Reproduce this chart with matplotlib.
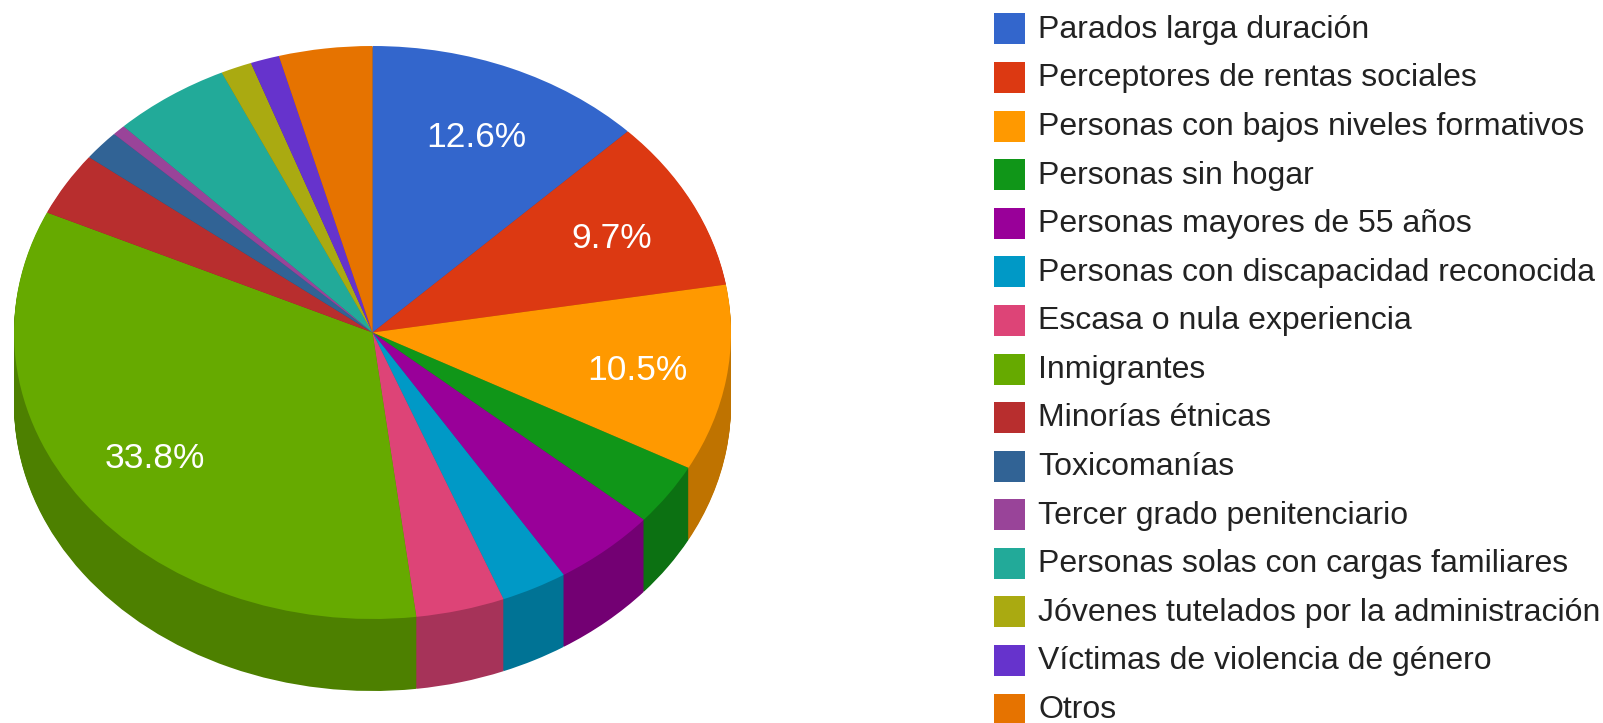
import matplotlib
matplotlib.use("Agg")
import matplotlib.pyplot as plt
import matplotlib.colors as mcolors

plt.rcParams['font.family'] = ['Liberation Sans', 'DejaVu Sans']

# Share of each group (%)
categories = [
    "Parados larga duración",
    "Perceptores de rentas sociales",
    "Personas con bajos niveles formativos",
    "Personas sin hogar",
    "Personas mayores de 55 años",
    "Personas con discapacidad reconocida",
    "Escasa o nula experiencia",
    "Inmigrantes",
    "Minorías étnicas",
    "Toxicomanías",
    "Tercer grado penitenciario",
    "Personas solas con cargas familiares",
    "Jóvenes tutelados por la administración",
    "Víctimas de violencia de género",
    "Otros",
]
values = [12.6, 9.7, 10.5, 3.5, 4.7, 3.0, 4.0, 33.8, 3.6, 1.7, 0.6, 5.3, 1.4, 1.3, 4.2]
colors = [
    "#3366cc", "#dc3912", "#ff9900", "#109618", "#990099",
    "#0099c6", "#dd4477", "#66aa00", "#b82e2e", "#316395",
    "#994499", "#22aa99", "#aaaa11", "#6633cc", "#e67300",
]

# Figure geometry in pixels
W, H = 1603, 723
cx, cy = 372.5, 332.5
rx, ry = 358.5, 286.5
depth_px = 72

fig = plt.figure(figsize=(W / 100, H / 100), dpi=100)
ax = fig.add_axes([0, 0, 1, 1])

# Side of the disc: stacked darker copies, lowest first
dark = [tuple(c * 0.75 for c in mcolors.to_rgb(col)) for col in colors]
for px in range(depth_px, 0, -1):
    ax.pie(values, colors=dark, startangle=90, counterclock=False,
           center=(0, -px / ry), wedgeprops={"linewidth": 0, "antialiased": True})


def pct_label(pct):
    # only the big slices carry a label
    return f"{pct:.1f}%" if pct >= 9 else ""


wedges, _, pct_texts = ax.pie(values, colors=colors, startangle=90, counterclock=False,
                              autopct=pct_label, pctdistance=0.75,
                              wedgeprops={"linewidth": 0, "antialiased": True},
                              textprops={"color": "white", "fontsize": 25.5})
for t in pct_texts:
    t.set_verticalalignment("center_baseline")
# the big slice label sits a little higher in the original
pct_texts[7].set_y(pct_texts[7].get_position()[1] + 0.016)

# The pie is drawn round, then squashed into an ellipse by the axis limits
ax.set_aspect("auto")
ax.set_xlim(-cx / rx, (W - cx) / rx)
ax.set_ylim(-(H - cy) / ry, cy / ry)
ax.axis("off")

font_size = 23.0
leg = ax.legend(wedges, categories, loc="upper left",
                bbox_to_anchor=(994 / W, 1 - 13.5 / H), bbox_transform=fig.transFigure,
                frameon=False, borderpad=0, borderaxespad=0,
                fontsize=font_size, labelcolor="#222222",
                handlelength=0.96, handleheight=1.115, handletextpad=0.42,
                labelspacing=0.477)
# lift the legend words slightly against their swatches
for t in leg.get_texts():
    t.set_y(2)

fig.savefig("out.png", dpi=100)
